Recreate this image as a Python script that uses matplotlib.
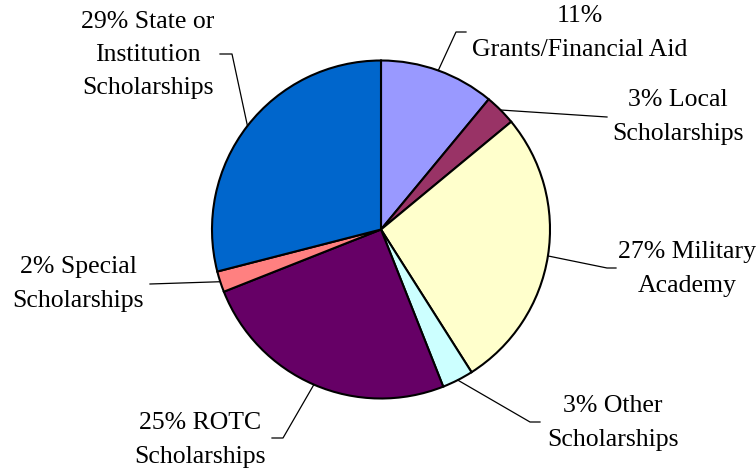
import numpy as np
import matplotlib
matplotlib.use("Agg")
import matplotlib.pyplot as plt

# Funding sources, clockwise from 12 o'clock
labels = [
    "11%\nGrants/Financial Aid",
    "3% Local\nScholarships",
    "27% Military\nAcademy",
    "3% Other\nScholarships",
    "25% ROTC\nScholarships",
    "2% Special\nScholarships",
    "29% State or\nInstitution\nScholarships",
]
shares = [11, 3, 27, 3, 25, 2, 29]
colors = ["#9999FF", "#993366", "#FFFFCC", "#CCFFFF", "#660066", "#FF8080", "#0066CC"]

# label layout in pixel coords (from top-left): text centre, elbow, end of short horizontal
text_pos = [(580, 33), (678, 117), (687, 269), (613, 423), (200, 440), (78, 284), (148, 55)]
elbow_pos = [(456, 32), (607, 117), (607, 268), (530, 422), (283, 438), (150, 284), (232, 54)]
tail_pos = [(466, 32), (607, 117), (616, 268), (540, 422), (272, 438), (150, 284), (220, 54)]

W, H = 756, 474
cx, cy, r = 381, 229.5, 169

plt.rcParams["font.family"] = ["Liberation Serif", "DejaVu Serif"]

fig = plt.figure(figsize=(W / 100, H / 100), dpi=100)
ax = fig.add_axes([0, 0, 1, 1])


def fy(y):
    return H - y


wedges, _ = ax.pie(
    shares,
    colors=colors,
    startangle=90,
    counterclock=False,
    center=(cx, fy(cy)),
    radius=r,
    wedgeprops={"edgecolor": "black", "linewidth": 1.5},
    frame=True,
)
ax.set_xlim(0, W)
ax.set_ylim(0, H)
ax.set_aspect("equal")
ax.axis("off")

for w, lab, tp, ep, hp in zip(wedges, labels, text_pos, elbow_pos, tail_pos):
    ang = np.deg2rad((w.theta1 + w.theta2) / 2)
    px = cx + r * np.cos(ang)
    py = fy(cy) + r * np.sin(ang)
    ax.plot([px, ep[0], hp[0]], [py, fy(ep[1]), fy(hp[1])], color="black", lw=0.9)
    ax.text(tp[0], fy(tp[1]), lab, ha="center", va="center", fontsize=18.5,
            linespacing=1.65, color="black")

fig.savefig("out.png", dpi=100)
